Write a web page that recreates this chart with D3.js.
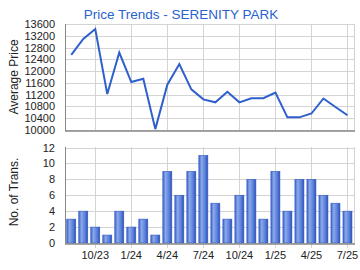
<!DOCTYPE html>
<html>
<head>
<meta charset="utf-8">
<script src="https://cdn.jsdelivr.net/npm/d3@7"></script>
<style>
  body { margin: 0; background: #fff; }
  svg { font-family: Arial, "Liberation Sans", sans-serif; display: block; }
</style>
</head>
<body>
<svg></svg>
<script>
// Size of the whole picture
var width = 360;
var height = 270;
var svg = d3.select('svg')
            .attr('width', width)
            .attr('height', height);

// Months, Aug 2023 .. Jul 2025
var months = ['8/23','9/23','10/23','11/23','12/23','1/24','2/24','3/24','4/24','5/24','6/24','7/24',
              '8/24','9/24','10/24','11/24','12/24','1/25','2/25','3/25','4/25','5/25','6/25','7/25'];
var tickLabels = ['10/23','1/24','4/24','7/24','10/24','1/25','4/25','7/25'];

// Average price per month
var prices = [12550, 13090, 13430, 11220, 12630, 11630, 11740, 10030, 11540, 12240, 11380, 11040,
              10940, 11300, 10940, 11080, 11080, 11270, 10430, 10430, 10560, 11070, 10780, 10500];

// Number of transactions per month
var trans = [3, 4, 2, 1, 4, 2, 3, 1, 9, 6, 9, 11, 5, 3, 6, 8, 3, 9, 4, 8, 8, 6, 5, 4];

var priceTicks = d3.range(10000, 13601, 400);
var transTicks = d3.range(0, 13, 2);

var left = 65, right = 354;

// shared x scale (band per month)
var x = d3.scaleBand()
          .domain(months)
          .range([left + 0.3, right - 0.6])
          .paddingInner(0.25)
          .paddingOuter(0.12);
var xc = d => x(d) + x.bandwidth() / 2;

// gradient for bars
var defs = svg.append('defs');
var grad = defs.append('linearGradient').attr('id', 'barGrad')
               .attr('x1', '0').attr('x2', '1').attr('y1', '0').attr('y2', '0');
grad.append('stop').attr('offset', '0%').attr('stop-color', '#3a62c8');
grad.append('stop').attr('offset', '30%').attr('stop-color', '#8aa8ea');
grad.append('stop').attr('offset', '70%').attr('stop-color', '#5a80db');
grad.append('stop').attr('offset', '100%').attr('stop-color', '#2a4fb5');

// Title
svg.append('text')
   .attr('x', 181).attr('y', 19)
   .attr('text-anchor', 'middle')
   .attr('fill', '#2a62d0')
   .style('font-size', '13.5px')
   .text('Price Trends - SERENITY PARK');

//------ Top chart: price line
var y1 = d3.scaleLinear().domain([10000, 13600]).range([130, 24]);

var g1 = svg.append('g');
g1.selectAll('line.h').data(priceTicks).enter().append('line')
  .attr('x1', left).attr('x2', right)
  .attr('y1', d => Math.round(y1(d)) + 0.5).attr('y2', d => Math.round(y1(d)) + 0.5)
  .attr('stroke', '#d4d4d4');
g1.selectAll('line.v').data(tickLabels).enter().append('line')
  .attr('x1', d => Math.round(xc(d)) + 0.5).attr('x2', d => Math.round(xc(d)) + 0.5)
  .attr('y1', 24).attr('y2', 131)
  .attr('stroke', '#d4d4d4');
g1.append('line').attr('x1', right + 0.5).attr('x2', right + 0.5).attr('y1', 24).attr('y2', 131).attr('stroke', '#d4d4d4');

g1.selectAll('text.yl').data(priceTicks).enter().append('text')
  .attr('x', 55).attr('y', d => y1(d) + 4)
  .attr('text-anchor', 'end')
  .attr('fill', '#222')
  .style('font-size', '11px')
  .text(d => d);

g1.append('text')
  .attr('transform', 'translate(18,77) rotate(-90)')
  .attr('text-anchor', 'middle')
  .attr('fill', '#222')
  .style('font-size', '12px')
  .text('Average Price');

g1.append('line').attr('x1', left).attr('x2', right + 1).attr('y1', 131).attr('y2', 131)
  .attr('stroke', '#888').attr('stroke-width', 1.5);
g1.append('line').attr('x1', left + 0.5).attr('x2', left + 0.5).attr('y1', 24).attr('y2', 131)
  .attr('stroke', '#888');

var line = d3.line().x((d, i) => xc(months[i])).y(d => y1(d));
g1.append('path')
  .datum(prices)
  .attr('d', line)
  .attr('fill', 'none')
  .attr('stroke', '#2e5fcc')
  .attr('stroke-width', 2);

//------ Bottom chart: transactions
var y2 = d3.scaleLinear().domain([0, 12]).range([243, 147.5]);

var g2 = svg.append('g');
g2.selectAll('line.h').data(transTicks).enter().append('line')
  .attr('x1', left).attr('x2', right)
  .attr('y1', d => Math.round(y2(d)) + 0.5).attr('y2', d => Math.round(y2(d)) + 0.5)
  .attr('stroke', '#d4d4d4');
g2.selectAll('line.v').data(tickLabels).enter().append('line')
  .attr('x1', d => Math.round(xc(d)) + 0.5).attr('x2', d => Math.round(xc(d)) + 0.5)
  .attr('y1', 147).attr('y2', 248)
  .attr('stroke', '#d4d4d4');
g2.append('line').attr('x1', right + 0.5).attr('x2', right + 0.5).attr('y1', 147).attr('y2', 244).attr('stroke', '#d4d4d4');

g2.selectAll('text.yl').data(transTicks).enter().append('text')
  .attr('x', 55).attr('y', d => y2(d) + 4)
  .attr('text-anchor', 'end')
  .attr('fill', '#222')
  .style('font-size', '11px')
  .text(d => d);

g2.selectAll('text.xl').data(tickLabels).enter().append('text')
  .attr('x', d => xc(d)).attr('y', 259)
  .attr('text-anchor', 'middle')
  .attr('fill', '#222')
  .style('font-size', '11px')
  .text(d => d);

g2.append('text')
  .attr('transform', 'translate(18,192) rotate(-90)')
  .attr('text-anchor', 'middle')
  .attr('fill', '#222')
  .style('font-size', '12px')
  .text('No. of Trans.');

g2.selectAll('rect.bar').data(trans).enter().append('rect')
  .attr('x', (d, i) => x(months[i]))
  .attr('width', x.bandwidth())
  .attr('y', d => y2(d))
  .attr('height', d => y2(0) - y2(d))
  .attr('fill', 'url(#barGrad)')
  .attr('stroke', '#3558c0')
  .attr('stroke-width', 0.6);

g2.append('line').attr('x1', left).attr('x2', right + 1).attr('y1', 244).attr('y2', 244)
  .attr('stroke', '#888').attr('stroke-width', 1.5);
g2.append('line').attr('x1', left + 0.5).attr('x2', left + 0.5).attr('y1', 147).attr('y2', 244)
  .attr('stroke', '#888');
</script>
</body>
</html>
